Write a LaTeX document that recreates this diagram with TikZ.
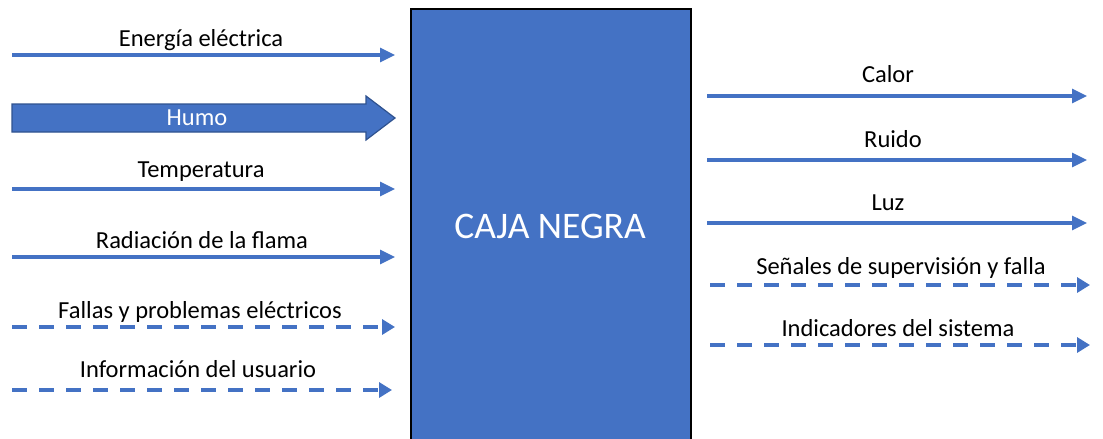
\documentclass[tikz,border=0pt]{standalone}
\usepackage{fontspec}
\setmainfont{Carlito}
\usetikzlibrary{arrows.meta}
\definecolor{flow}{HTML}{4472C4}
\definecolor{edge}{HTML}{2F528F}
\begin{document}
\begin{tikzpicture}[x=1pt,y=-1pt,
  lbl/.style={font=\fontsize{24.5}{28}\selectfont, text=black, inner sep=0pt},
  solidflow/.style={draw=flow, line width=3.2pt, -{Triangle[length=15pt,width=14pt]}},
  dashflow/.style={draw=flow, line width=4.5pt, dash pattern=on 15pt off 12pt, -{Triangle[length=13pt,width=15pt]}},
]
\useasboundingbox (0,0) rectangle (1103,439);
\fill[white] (0,0) rectangle (1103,439);

% central box
\node[draw=black, line width=1.5pt, fill=flow, minimum width=280pt, minimum height=445pt,
  anchor=north west, inner sep=0pt] (box) at (410,8) {};
\node[text=white, font=\fontsize{37.5}{42}\selectfont] (boxlbl) at (550,226) {CAJA NEGRA};

% inputs
\coordinate (e1s) at (12,55);  \coordinate (e1e) at (395,55);
\draw[solidflow] (e1s) -- (e1e);
\node[lbl] (e1) at (201,40) {Energía eléctrica};

% block arrow for smoke
\draw[edge, fill=flow, line width=1.2pt] (12,104) -- (366,104) -- (366,96) -- (395,118)
  -- (366,140) -- (366,132) -- (12,132) -- cycle;
\node[text=white, font=\fontsize{24.5}{28}\selectfont, inner sep=0pt] (humolbl) at (197,118) {Humo};

\coordinate (e3s) at (12,189); \coordinate (e3e) at (395,189);
\draw[solidflow] (e3s) -- (e3e);
\node[lbl] (e3) at (201,172) {Temperatura};

\coordinate (e4s) at (12,257); \coordinate (e4e) at (395,257);
\draw[solidflow] (e4s) -- (e4e);
\node[lbl] (e4) at (202,240) {Radiación de la flama};

\coordinate (e5s) at (12,327); \coordinate (e5e) at (395,327);
\draw[dashflow] (e5s) -- (e5e);
\node[lbl] (e5) at (200,312) {Fallas y problemas eléctricos};

\coordinate (e6s) at (12,390); \coordinate (e6e) at (392,390);
\draw[dashflow] (e6s) -- (e6e);
\node[lbl] (e6) at (198,369) {Información del usuario};

% outputs
\coordinate (s1s) at (707,96);  \coordinate (s1e) at (1087,96);
\draw[solidflow] (s1s) -- (s1e);
\node[lbl] (s1) at (888,74) {Calor};

\coordinate (s2s) at (707,160); \coordinate (s2e) at (1087,160);
\draw[solidflow] (s2s) -- (s2e);
\node[lbl] (s2) at (893,139) {Ruido};

\coordinate (s3s) at (707,223); \coordinate (s3e) at (1087,223);
\draw[solidflow] (s3s) -- (s3e);
\node[lbl] (s3) at (888,203) {Luz};

\coordinate (s4s) at (710,285); \coordinate (s4e) at (1090,285);
\draw[dashflow] (s4s) -- (s4e);
\node[lbl] (s4) at (901,268) {Señales de supervisión y falla};

\coordinate (s5s) at (710,345); \coordinate (s5e) at (1090,345);
\draw[dashflow] (s5s) -- (s5e);
\node[lbl] (s5) at (898,328) {Indicadores del sistema};
\end{tikzpicture}
\end{document}
